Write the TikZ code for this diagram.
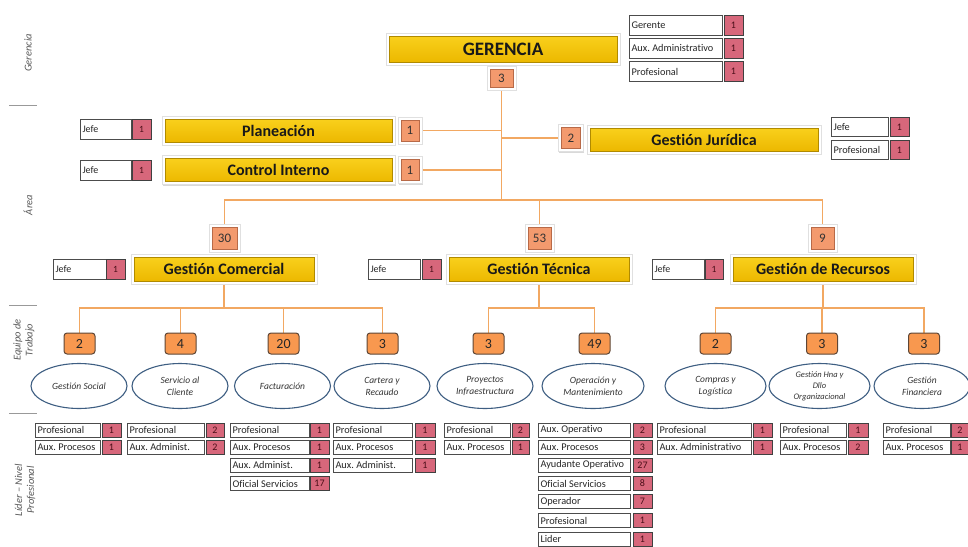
\documentclass[tikz,border=0pt]{standalone}
\usepackage{fontspec}
\setmainfont{Carlito}[Ligatures={NoCommon,TeX}]
\usetikzlibrary{shadows,shapes.geometric,calc}
\pgfdeclarelayer{lines}
\pgfdeclarelayer{frames}
\pgfsetlayers{lines,frames,main}
\definecolor{ytop}{HTML}{F9D01C}
\definecolor{ybot}{HTML}{ECB800}
\definecolor{ydark}{HTML}{B08A00}
\definecolor{orng}{HTML}{F39A6E}
\definecolor{odark}{HTML}{B86A48}
\definecolor{torng}{HTML}{F8984F}
\definecolor{tdark}{HTML}{5E4636}
\definecolor{rred}{HTML}{D7677B}
\definecolor{rtext}{HTML}{4A0E18}
\definecolor{eblue}{HTML}{3E5E82}
\definecolor{lineor}{HTML}{F2A862}
\newcommand\myfs[1]{\fontsize{#1}{#1}\selectfont}
\frenchspacing
\tikzset{
  every node/.style={inner sep=0pt, outer sep=0pt},
  ybox/.style={draw=ydark, line width=0.8pt, top color=ytop, bottom color=ybot,
    font=\myfs{16}\bfseries, text=black!90},
  obox/.style={draw=odark, line width=0.8pt, fill=orng, font=\myfs{13}, text=black!80},
  tbox/.style={draw=tdark, line width=1pt, fill=torng, rounded corners=3pt,
    minimum width=31pt, minimum height=21pt, font=\myfs{14}, text=black!85},
  wbox/.style={draw=black!70, line width=0.9pt, fill=white, minimum height=14pt,
    font=\myfs{10.3}, anchor=west, text=black!85},
  rbox/.style={draw=black!75, line width=0.9pt, fill=rred, minimum height=14pt,
    font=\myfs{10}, text=rtext, anchor=west},
  team/.style={ellipse, draw=eblue, line width=1.1pt, fill=white, minimum width=96pt,
    minimum height=45pt, font=\fontsize{9.5}{12}\selectfont\itshape, align=center, text=black!80},
  conn/.style={draw=lineor, line width=1.4pt},
  frm/.style={fill=white, draw=black!12, line width=0.4pt,
    drop shadow={shadow xshift=0.8pt, shadow yshift=-1.2pt, opacity=0.3}},
  side/.style={rotate=90, font=\fontsize{10.5}{12}\selectfont\itshape, text=black!65, align=center},
  sep/.style={draw=black!40, line width=0.8pt},
}
% name, white left x, white width, red left x, red width, y, text, number
\newcommand\role[8]{%
  \pgfmathsetmacro\rw{#3-5}%
  \node[wbox, minimum width=#3pt] (#1) at (#2,#6) {\makebox[\rw pt][l]{#7}};
  \node[rbox, minimum width=#5pt] (#1n) at (#4,#6) {#8};
}
\begin{document}
\begin{tikzpicture}[x=1pt,y=-1pt]
\useasboundingbox (0,0) rectangle (968,546);

% side labels
\node[side] (lgr) at (28,53) {Gerencia};
\node[side] (lar) at (28,205) {Área};
\node[side] (leq) at (24,340) {Equipo de\\Trabajo};
\node[side] (lli) at (25,490) {Líder – Nivel\\Profesional};
\draw[sep] (9,105) -- (37,105);
\draw[sep] (9,305) -- (37,305);
\draw[sep] (9,413) -- (37,413);

% Gerencia
\node[ybox, minimum width=228pt, minimum height=26pt, font=\myfs{19}\bfseries] (ger) at (503,49) {GERENCIA};
\node[obox, minimum width=23pt, minimum height=18pt] (c3) at (501.5,78) {3};
\begin{scope}[wbox/.append style={minimum height=20pt}, rbox/.append style={minimum height=20pt}]
\role{g1}{629}{93}{724}{19}{25}{Gerente}{1}
\role{g2}{629}{93}{724}{19}{48}{Aux. Administrativo}{1}
\role{g3}{629}{93}{724}{19}{71.5}{Profesional}{1}
\end{scope}

% staff areas
\node[ybox, minimum width=227pt, minimum height=23pt] (pla) at (278.5,130.5) {Planeación};
\node[obox, minimum width=18pt, minimum height=21pt] (plan) at (410,130.5) {1};
\node[ybox, minimum width=227pt, minimum height=23pt] (ctl) at (278.5,170) {Control Interno};
\node[obox, minimum width=18pt, minimum height=21pt] (ctln) at (410,170) {1};
\node[ybox, minimum width=228pt, minimum height=23pt] (jur) at (704,139.5) {Gestión Jurídica};
\node[obox, minimum width=19pt, minimum height=21pt] (jurn) at (571,138) {2};

\begin{scope}[wbox/.append style={minimum height=20pt, font=\myfs{10}}, rbox/.append style={minimum height=20pt, font=\myfs{9.5}}]
\role{jpl}{80}{51}{132}{19}{129}{Jefe}{1}
\role{jct}{80}{51}{132}{19}{170}{Jefe}{1}
\role{jcm}{53}{53}{106}{19}{269}{Jefe}{1}
\role{jtc}{368}{52}{422}{19}{269}{Jefe}{1}
\role{jrc}{652}{52}{705}{18}{269}{Jefe}{1}
\end{scope}
\begin{scope}[wbox/.append style={minimum height=19pt}, rbox/.append style={minimum height=19pt}]
\role{jj1}{831}{57}{890}{19}{127}{Jefe}{1}
\role{jj2}{831}{57}{890}{19}{150}{Profesional}{1}
\end{scope}

% line areas
\node[obox, minimum width=25pt, minimum height=22pt] (cm30) at (224.5,238) {30};
\node[obox, minimum width=23pt, minimum height=22pt] (tc53) at (539.5,238) {53};
\node[obox, minimum width=23pt, minimum height=22pt] (rc9) at (822.5,238) {9};
\node[ybox, minimum width=180pt, minimum height=24pt] (gcom) at (224,269) {Gestión Comercial};
\node[ybox, minimum width=180pt, minimum height=24pt] (gtec) at (539,269) {Gestión Técnica};
\node[ybox, minimum width=180pt, minimum height=24pt] (grec) at (823,269) {Gestión de Recursos};

% teams
\node[tbox] (t1) at (79.5,343.5) {2};
\node[tbox] (t2) at (180.5,343.5) {4};
\node[tbox] (t3) at (283.5,343.5) {20};
\node[tbox] (t4) at (382.5,343.5) {3};
\node[tbox] (t5) at (488.5,343.5) {3};
\node[tbox] (t6) at (594.5,343.5) {49};
\node[tbox] (t7) at (715.5,343.5) {2};
\node[tbox] (t8) at (822,343.5) {3};
\node[tbox] (t9) at (924,343.5) {3};

\node[team] (e1) at (79,386) {Gestión Social};
\node[team] (e2) at (180,386) {Servicio al\\Cliente};
\node[team] (e3) at (282.5,386) {Facturación};
\node[team] (e4) at (382,386) {Cartera y\\Recaudo};
\node[team] (e5) at (485,386) {Proyectos\\Infraestructura};
\node[team, minimum width=102pt] (e6) at (593,386) {Operación y\\Mantenimiento};
\node[team, minimum width=101pt] (e7) at (715.5,386) {Compras y\\Logística};
\node[team, minimum width=101pt, font=\fontsize{8.5}{11}\selectfont\itshape] (e8) at (819.5,386) {Gestión Hna y\\Dllo\\Organizacional};
\node[team] (e9) at (922,386) {Gestión\\Financiera};

% staff lists
\role{a1}{35}{65}{102}{19}{430}{Profesional}{1}
\role{a2}{35}{65}{102}{19}{447}{Aux. Procesos}{1}
\role{b1}{127}{77}{206}{18}{430}{Profesional}{2}
\role{b2}{127}{77}{206}{18}{447}{Aux. Administ.}{2}
\role{c1}{230}{79}{310}{19}{430}{Profesional}{1}
\role{c2}{230}{79}{310}{19}{447}{Aux. Procesos}{1}
\role{c3r}{230}{79}{310}{19}{465}{Aux. Administ.}{1}
\role{c4}{230}{79}{310}{19}{483.5}{Oficial Servicios}{17}
\role{d1}{333}{79}{415}{20}{430}{Profesional}{1}
\role{d2}{333}{79}{415}{20}{447}{Aux. Procesos}{1}
\role{d3}{333}{79}{415}{20}{465}{Aux. Administ.}{1}
\role{f1}{444}{66}{512}{17}{430}{Profesional}{2}
\role{f2}{444}{66}{512}{17}{447}{Aux. Procesos}{1}
\role{h1}{538}{92}{633}{19}{430}{Aux. Operativo}{2}
\role{h2}{538}{92}{633}{19}{447}{Aux. Procesos}{3}
\role{h3}{538}{92}{633}{19}{465}{Ayudante Operativo}{27}
\role{h4}{538}{92}{633}{19}{483.5}{Oficial Servicios}{8}
\role{h5}{538}{92}{633}{19}{501.5}{Operador}{7}
\role{h6}{538}{92}{633}{19}{520.5}{Profesional}{1}
\role{h7}{538}{92}{633}{19}{539}{Lider}{1}
\role{k1}{657}{94}{753}{19}{430}{Profesional}{1}
\role{k2}{657}{94}{753}{19}{447}{Aux. Administrativo}{1}
\role{m1}{780}{66}{848}{20}{430}{Profesional}{1}
\role{m2}{780}{66}{848}{20}{447}{Aux. Procesos}{2}
\role{p1}{883}{67}{951}{18}{430}{Profesional}{2}
\role{p2}{883}{67}{951}{18}{447}{Aux. Procesos}{1}

% frames
\begin{pgfonlayer}{frames}
\foreach \n in {ger,c3,pla,plan,ctl,ctln,jur,jurn,cm30,tc53,rc9,gcom,gtec,grec}
  \draw[frm] ([shift={(-3pt,3pt)}]\n.north west) rectangle ([shift={(3pt,-3pt)}]\n.south east);
\end{pgfonlayer}

% connectors
\begin{pgfonlayer}{lines}
\coordinate (hub) at (501.5,200);
\coordinate (cmh) at (224,308);
\coordinate (tch) at (539,308);
\coordinate (rch) at (823,308);
\draw[conn] (c3.south) -- (hub);
\draw[conn] (plan.east) -- (plan.east -| hub);
\draw[conn] (ctln.east) -- (ctln.east -| hub);
\draw[conn] (jurn.west) -- (jurn.west -| hub);
\draw[conn] (cm30.north) |- (hub) -| (rc9.north);
\draw[conn] (tc53.north) -- (tc53.north |- hub);
\draw[conn] (gcom.south) -- (cmh);
\draw[conn] (t1.north) |- (cmh) -| (t4.north);
\draw[conn] (t2.north) -- (t2.north |- cmh);
\draw[conn] (t3.north) -- (t3.north |- cmh);
\draw[conn] (gtec.south) -- (tch);
\draw[conn] (t5.north) |- (tch) -| (t6.north);
\draw[conn] (grec.south) -- (rch);
\draw[conn] (t7.north) |- (rch) -| (t9.north);
\draw[conn] (t8.north) -- (t8.north |- rch);
\end{pgfonlayer}
\end{tikzpicture}
\end{document}
